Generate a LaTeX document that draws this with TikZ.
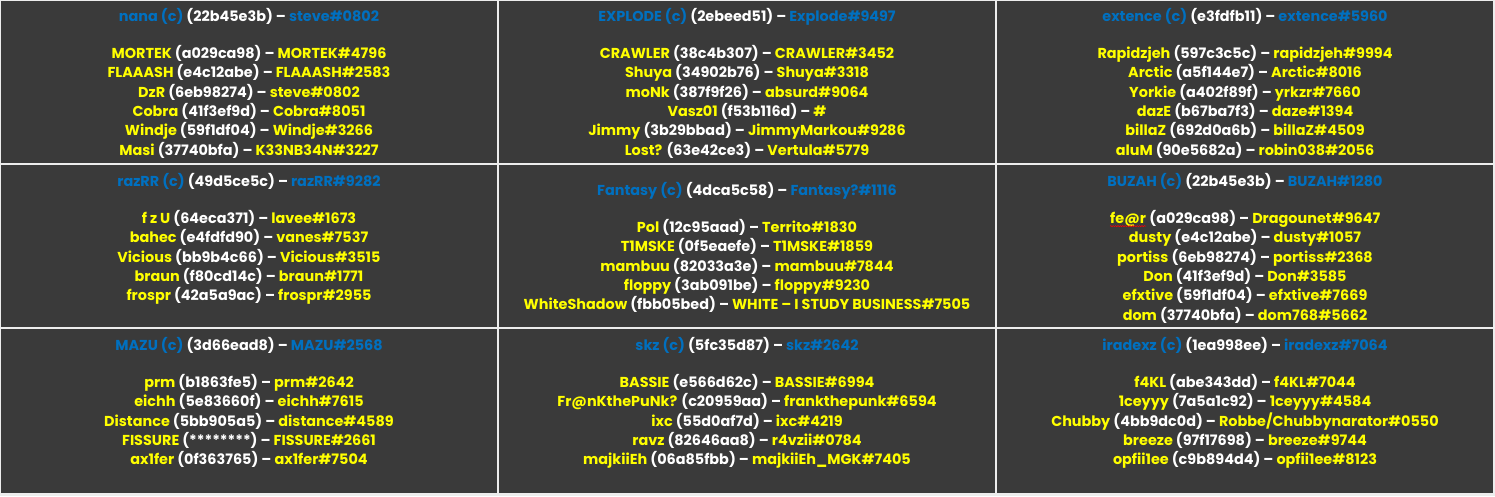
\documentclass[tikz,border=0pt]{standalone}
\usepackage{fontspec}
\setmainfont{Poppins}[Ligatures={TeX,NoCommon}]
\usetikzlibrary{decorations.pathmorphing}

\definecolor{cellgrey}{HTML}{3A3A3A}
\definecolor{rimgrey}{HTML}{EDEDED}
\definecolor{teamblue}{HTML}{0070C0}
\definecolor{nameyellow}{HTML}{FFFF00}

\newcommand{\teamline}[3]{\textcolor{teamblue}{#1 (c)} (#2) -- \textcolor{teamblue}{#3}}
\newcommand{\playerline}[3]{\textcolor{nameyellow}{#1} (#2) -- \textcolor{nameyellow}{#3}}
\newcommand{\spellmark}[1]{\tikz[baseline=(sw.base)]{\node[inner sep=0pt,anchor=base,text=nameyellow] (sw) {#1};
\draw[red, line width=.5pt, decorate, decoration={snake,amplitude=.6pt,segment length=2.4pt}] ([yshift=-2.5pt]sw.base west) -- ([yshift=-2.5pt]sw.base east);}}

\begin{document}
\begin{tikzpicture}[x=1pt,y=-1pt,
  cellbox/.style={anchor=north, align=center, inner sep=0pt, text=white, font=\fontsize{14.4}{19.3}\selectfont\bfseries}]
\useasboundingbox (0,0) rectangle (1495,496);
\fill[rimgrey] (0,0) rectangle (1495,496);
\fill[cellgrey] (1,1) rectangle (497,163);
\fill[cellgrey] (499,1) rectangle (995,163);
\fill[cellgrey] (997,1) rectangle (1493,163);
\fill[cellgrey] (1,165) rectangle (497,327);
\fill[cellgrey] (499,165) rectangle (995,327);
\fill[cellgrey] (997,165) rectangle (1493,327);
\fill[cellgrey] (1,329) rectangle (497,493);
\fill[cellgrey] (499,329) rectangle (995,493);
\fill[cellgrey] (997,329) rectangle (1493,493);
% top row
\node[cellbox] (nana) at (249,8) {\teamline{nana}{22b45e3b}{steve\#0802}\\[18pt]
\playerline{MORTEK}{a029ca98}{MORTEK\#4796}\\
\playerline{FLAAASH}{e4c12abe}{FLAAASH\#2583}\\
\playerline{DzR}{6eb98274}{steve\#0802}\\
\playerline{Cobra}{41f3ef9d}{Cobra\#8051}\\
\playerline{Windje}{59f1df04}{Windje\#3266}\\
\playerline{Masi}{37740bfa}{K33NB34N\#3227}};
\node[cellbox] (explode) at (747,8) {\teamline{EXPLODE}{2ebeed51}{Explode\#9497}\\[18pt]
\playerline{CRAWLER}{38c4b307}{CRAWLER\#3452}\\
\playerline{Shuya}{34902b76}{Shuya\#3318}\\
\playerline{moNk}{387f9f26}{absurd\#9064}\\
\playerline{Vasz01}{f53b116d}{\#}\\
\playerline{Jimmy}{3b29bbad}{JimmyMarkou\#9286}\\
\playerline{Lost?}{63e42ce3}{Vertula\#5779}};
\node[cellbox] (extence) at (1245,8) {\teamline{extence}{e3fdfb11}{extence\#5960}\\[18pt]
\playerline{Rapidzjeh}{597c3c5c}{rapidzjeh\#9994}\\
\playerline{Arctic}{a5f144e7}{Arctic\#8016}\\
\playerline{Yorkie}{a402f89f}{yrkzr\#7660}\\
\playerline{dazE}{b67ba7f3}{daze\#1394}\\
\playerline{billaZ}{692d0a6b}{billaZ\#4509}\\
\playerline{aluM}{90e5682a}{robin038\#2056}};
% middle row
\node[cellbox] (razrr) at (249,173) {\teamline{razRR}{49d5ce5c}{razRR\#9282}\\[18pt]
\playerline{f z U}{64eca371}{lavee\#1673}\\
\playerline{bahec}{e4fdfd90}{vanes\#7537}\\
\playerline{Vicious}{bb9b4c66}{Vicious\#3515}\\
\playerline{braun}{f80cd14c}{braun\#1771}\\
\playerline{frospr}{42a5a9ac}{frospr\#2955}};
\node[cellbox] (fantasy) at (747,182) {\teamline{Fantasy}{4dca5c58}{Fantasy?\#1116}\\[18pt]
\playerline{Pol}{12c95aad}{Territo\#1830}\\
\playerline{T1MSKE}{0f5eaefe}{T1MSKE\#1859}\\
\playerline{mambuu}{82033a3e}{mambuu\#7844}\\
\playerline{floppy}{3ab091be}{floppy\#9230}\\
\playerline{WhiteShadow}{fbb05bed}{WHITE -- I STUDY BUSINESS\#7505}};
\node[cellbox] (buzah) at (1245,173) {\teamline{BUZAH}{22b45e3b}{BUZAH\#1280}\\[18pt]
\spellmark{fe@r} (a029ca98) -- \textcolor{nameyellow}{Dragounet\#9647}\\
\playerline{dusty}{e4c12abe}{dusty\#1057}\\
\playerline{portiss}{6eb98274}{portiss\#2368}\\
\playerline{Don}{41f3ef9d}{Don\#3585}\\
\playerline{efxtive}{59f1df04}{efxtive\#7669}\\
\playerline{dom}{37740bfa}{dom768\#5662}};
% bottom row
\node[cellbox] (mazu) at (249,337) {\teamline{MAZU}{3d66ead8}{MAZU\#2568}\\[18pt]
\playerline{prm}{b1863fe5}{prm\#2642}\\
\playerline{eichh}{5e83660f}{eichh\#7615}\\
\playerline{Distance}{5bb905a5}{distance\#4589}\\
\playerline{FISSURE}{********}{FISSURE\#2661}\\
\playerline{ax1fer}{0f363765}{ax1fer\#7504}};
\node[cellbox] (skz) at (747,337) {\teamline{skz}{5fc35d87}{skz\#2642}\\[18pt]
\playerline{BASSIE}{e566d62c}{BASSIE\#6994}\\
\playerline{Fr@nKthePuNk?}{c20959aa}{frankthepunk\#6594}\\
\playerline{ixc}{55d0af7d}{ixc\#4219}\\
\playerline{ravz}{82646aa8}{r4vzii\#0784}\\
\playerline{majkiiEh}{06a85fbb}{majkiiEh\_MGK\#7405}};
\node[cellbox] (iradexz) at (1245,337) {\teamline{iradexz}{1ea998ee}{iradexz\#7064}\\[18pt]
\playerline{f4KL}{abe343dd}{f4KL\#7044}\\
\playerline{1ceyyy}{7a5a1c92}{1ceyyy\#4584}\\
\playerline{Chubby}{4bb9dc0d}{Robbe/Chubbynarator\#0550}\\
\playerline{breeze}{97f17698}{breeze\#9744}\\
\playerline{opfii1ee}{c9b894d4}{opfii1ee\#8123}};
\end{tikzpicture}
\end{document}
